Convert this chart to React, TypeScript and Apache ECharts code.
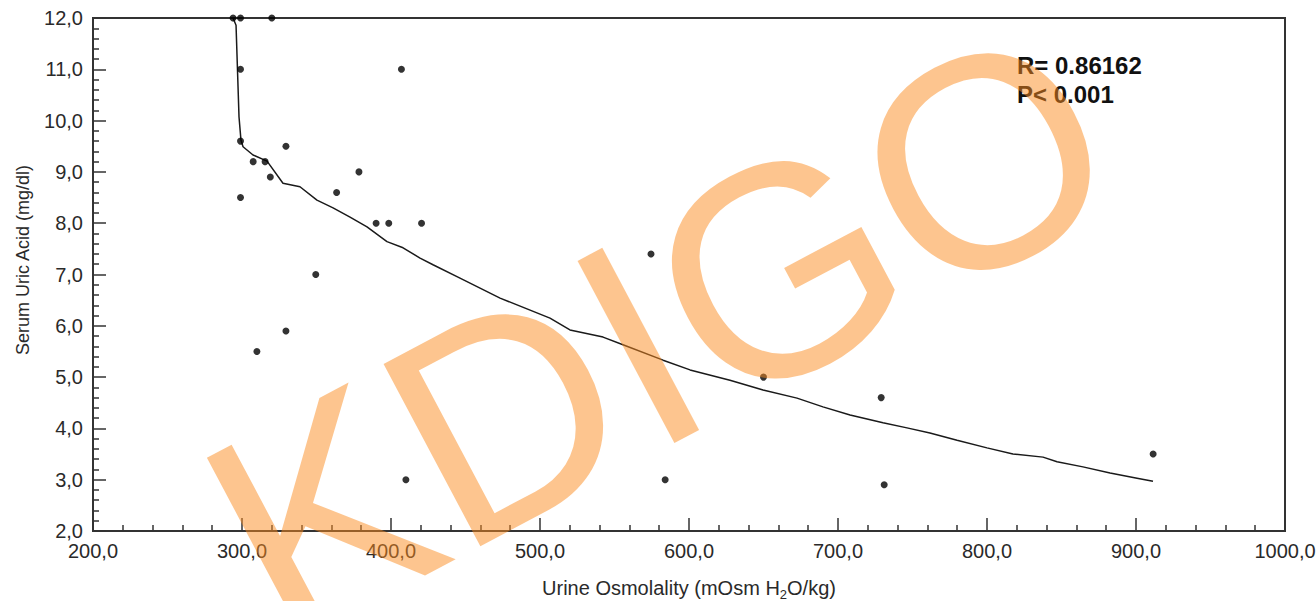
import React, { useEffect, useRef } from "react";
import * as echarts from "echarts";

// Scatter data: [urine osmolality, serum uric acid]
const osmolality = [294, 299, 320, 299, 407, 299, 329.5, 307.5, 315.5, 319, 299, 378.5, 363.5, 390, 398.5, 420.5, 349.5, 329.5, 310, 574.5, 650, 729, 584, 731, 911.5, 410];
const uricAcid = [12.0, 12.0, 12.0, 11.0, 11.0, 9.6, 9.5, 9.2, 9.2, 8.9, 8.5, 9.0, 8.6, 8.0, 8.0, 8.0, 7.0, 5.9, 5.5, 7.4, 5.0, 4.6, 3.0, 2.9, 3.5, 3.0];

// Fitted curve
const fitX = [294, 296, 298, 299.3, 300.7, 307.4, 316.8, 327.5, 338.9, 350.3, 361.1, 372.5, 383.9, 397.3, 408.1, 419.5, 428.2, 446.3, 473.2, 506.7, 520.1, 542.3, 555.7, 582.6, 600.7, 627.5, 649.7, 672.5, 689.9, 708.1, 730.2, 746.3, 761.7, 779.9, 800, 817.4, 837.6, 847, 864.4, 882.6, 900.7, 911.4];
const fitY = [12.0, 11.86, 10.07, 9.62, 9.49, 9.33, 9.21, 8.78, 8.71, 8.45, 8.3, 8.12, 7.93, 7.64, 7.52, 7.32, 7.19, 6.93, 6.54, 6.15, 5.92, 5.78, 5.63, 5.33, 5.14, 4.94, 4.75, 4.59, 4.42, 4.26, 4.11, 4.01, 3.91, 3.77, 3.62, 3.5, 3.44, 3.35, 3.25, 3.13, 3.03, 2.97];

const statLines = ["R= 0.86162", "P< 0.001"];
const xAxisTitle = "Urine Osmolality (mOsm H{sub|2}O/kg)";
const yAxisTitle = "Serum Uric Acid (mg/dl)";
const watermark = "KDIGO";

const fmt = (v: number) => v.toFixed(1).replace(".", ",");

export default function App() {
  const ref = useRef<HTMLDivElement>(null);
  useEffect(() => {
    if (!ref.current) return;
    const chart = echarts.init(ref.current, null, { renderer: "svg" });
    const axisColor = "#333";
    const font = "Liberation Sans";
    const common = {
      axisLine: { show: true, lineStyle: { color: axisColor, width: 2 } },
      axisTick: { show: true, inside: true, length: 13, lineStyle: { color: axisColor, width: 1.5 } },
      minorTick: { show: true, splitNumber: 5, length: 6, lineStyle: { color: axisColor, width: 1.5 } },
      splitLine: { show: false },
      axisLabel: { color: "#2a2a2a", fontSize: 20, fontFamily: font, margin: 10, formatter: fmt },
    };
    chart.setOption({
      animation: false,
      backgroundColor: "#fff",
      grid: {
        left: 93, right: 31, top: 18, bottom: 70,
        show: true, borderColor: axisColor, borderWidth: 2,
        containLabel: false, outerBoundsMode: "none",
      },
      xAxis: {
        type: "value", min: 200, max: 1000, interval: 100,
        ...common,
        name: xAxisTitle,
        nameLocation: "middle",
        nameGap: 44,
        nameTextStyle: {
          color: "#2a2a2a", fontSize: 20, fontFamily: font, lineHeight: 26,
          rich: { sub: { fontSize: 13, fontFamily: font, color: "#2a2a2a", lineHeight: 13, verticalAlign: "bottom" } },
        },
      },
      yAxis: {
        type: "value", min: 2, max: 12, interval: 1,
        ...common,
      },
      series: [
        {
          type: "line",
          data: fitX.map((x, i) => [x, fitY[i]]),
          showSymbol: false,
          symbol: "none",
          lineStyle: { color: "#1a1a1a", width: 1.5 },
          z: 2,
        },
        {
          type: "scatter",
          data: osmolality.map((x, i) => [x, uricAcid[i]]),
          symbol: "circle",
          symbolSize: 7,
          itemStyle: { color: "#000" },
          z: 3,
        },
      ],
      graphic: [
        {
          type: "text",
          left: 1017, top: 51,
          style: { text: statLines.join("\n"), fontSize: 24, fontWeight: "bold", fontFamily: font, fill: "#111", lineHeight: 29 },
          z: 5,
        },
        {
          type: "text",
          x: 23, y: 260, rotation: Math.PI / 2,
          style: { text: yAxisTitle, fontSize: 18, fontFamily: font, fill: "#2a2a2a", align: "center", verticalAlign: "middle" },
          z: 5,
        },
        {
          type: "text",
          x: 660, y: 333, rotation: (28 * Math.PI) / 180,
          style: { text: watermark, fontSize: 300, fontFamily: font, fill: "#fb8c20", opacity: 0.5, align: "center", verticalAlign: "middle" },
          z: 100,
          silent: true,
        },
      ],
    });
    return () => chart.dispose();
  }, []);
  return <div ref={ref} style={{ position: "fixed", left: 0, top: 0, width: 1316, height: 601 }} />;
}
